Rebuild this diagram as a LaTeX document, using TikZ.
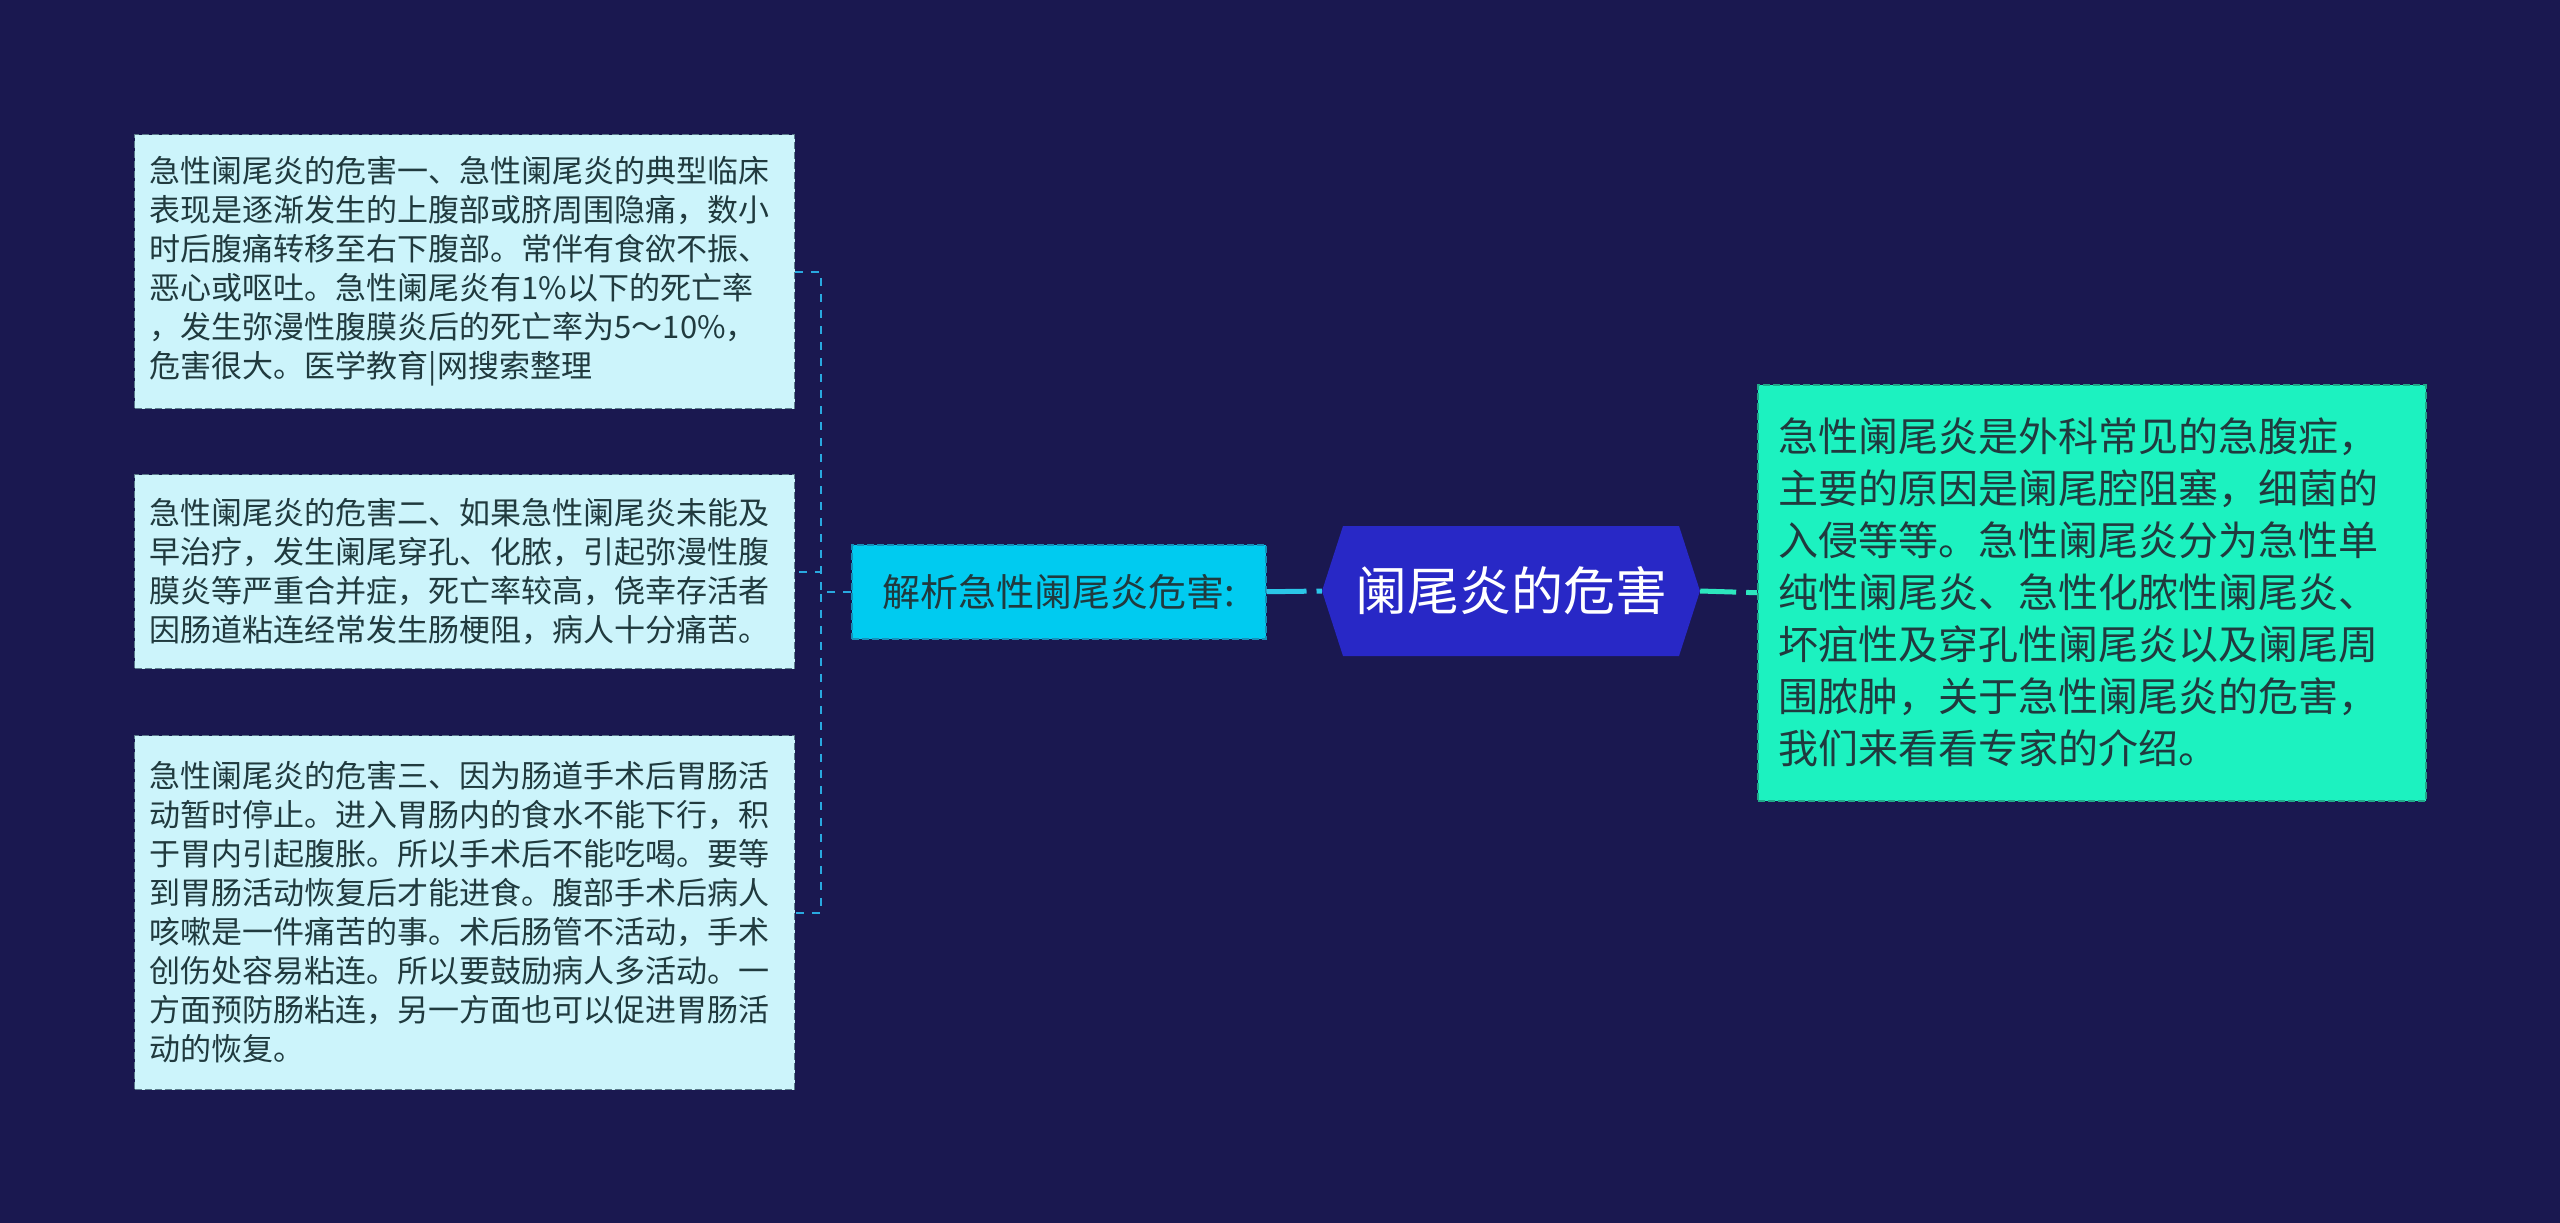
\documentclass[tikz,border=0pt]{standalone}
\usepackage{fontspec}
\setmainfont{Noto Sans CJK SC}
\usetikzlibrary{calc}
\definecolor{bgc}{HTML}{1A1850}
\definecolor{leaffill}{HTML}{CCF4FB}
\definecolor{leafline}{HTML}{5C7C8C}
\definecolor{anafill}{HTML}{00CBF0}
\definecolor{analine}{HTML}{1590B8}
\definecolor{rootfill}{HTML}{2828C6}
\definecolor{rfill}{HTML}{1CF2C0}
\definecolor{rline}{HTML}{20A888}
\definecolor{txt}{HTML}{203A3E}
\definecolor{cconn}{HTML}{29A9E0}
\definecolor{mconnc}{HTML}{2BC6E8}
\definecolor{gconnc}{HTML}{2DE6BE}
\begin{document}
\begin{tikzpicture}[x=1pt,y=-1pt,
  leaf/.style={draw=leafline, fill=leaffill, line width=1.3pt, dash pattern=on 7pt off 3pt,
    text width=630pt, inner xsep=15pt, inner ysep=0pt, align=left, text=txt,
    font=\fontsize{31}{39}\selectfont, anchor=north west},
  ana/.style={draw=analine, fill=anafill, line width=1.5pt, dash pattern=on 7pt off 3pt,
    minimum width=414pt, minimum height=94pt, inner sep=0pt, text=txt,
    font=\fontsize{38}{44}\selectfont, anchor=north west},
  rootn/.style={minimum width=378pt, minimum height=130pt, inner sep=0pt, text=white,
    font=\fontsize{52}{60}\selectfont},
  rbox/.style={draw=rline, fill=rfill, line width=1.5pt, dash pattern=on 7pt off 3pt,
    text width=626pt, inner xsep=21pt, inner ysep=0pt, align=left, text=txt,
    font=\fontsize{40}{52}\selectfont, anchor=north west},
  bconn/.style={draw=cconn, line width=2pt, dash pattern=on 8pt off 8pt},
  mconn/.style={draw=mconnc, line width=5pt, dash pattern=on 40pt off 10pt},
  gconn/.style={draw=gconnc, line width=5pt, dash pattern=on 36pt off 10pt}]
\fill[bgc] (0,0) rectangle (2560,1223);
\useasboundingbox (0,0) rectangle (2560,1223);

% central hexagon
\fill[rootfill] (1322,591) -- (1343,526) -- (1679,526) -- (1700,591) -- (1679,656) -- (1343,656) -- cycle;
\node[rootn] (root) at (1511,591) {阑尾炎的危害};

\node[ana] (ana) at (851,544) {解析急性阑尾炎危害:};

\node[leaf, minimum height=274pt] (b1) at (134,134) {急性阑尾炎的危害一、急性阑尾炎的典型临床\\
表现是逐渐发生的上腹部或脐周围隐痛，数小\\
时后腹痛转移至右下腹部。常伴有食欲不振、\\
恶心或呕吐。急性阑尾炎有1\%以下的死亡率\\
，发生弥漫性腹膜炎后的死亡率为5～10\%，\\
危害很大。医学教育|网搜索整理};

\node[leaf, minimum height=194pt] (b2) at (134,474) {急性阑尾炎的危害二、如果急性阑尾炎未能及\\
早治疗，发生阑尾穿孔、化脓，引起弥漫性腹\\
膜炎等严重合并症，死亡率较高，侥幸存活者\\
因肠道粘连经常发生肠梗阻，病人十分痛苦。};

\node[leaf, minimum height=354pt] (b3) at (134,735) {急性阑尾炎的危害三、因为肠道手术后胃肠活\\
动暂时停止。进入胃肠内的食水不能下行，积\\
于胃内引起腹胀。所以手术后不能吃喝。要等\\
到胃肠活动恢复后才能进食。腹部手术后病人\\
咳嗽是一件痛苦的事。术后肠管不活动，手术\\
创伤处容易粘连。所以要鼓励病人多活动。一\\
方面预防肠粘连，另一方面也可以促进胃肠活\\
动的恢复。};

\node[rbox, minimum height=416pt] (rb) at (1757,384) {急性阑尾炎是外科常见的急腹症，\\
主要的原因是阑尾腔阻塞，细菌的\\
入侵等等。急性阑尾炎分为急性单\\
纯性阑尾炎、急性化脓性阑尾炎、\\
坏疽性及穿孔性阑尾炎以及阑尾周\\
围脓肿，关于急性阑尾炎的危害，\\
我们来看看专家的介绍。};

% connectors
\coordinate (fork) at ($(ana.west)+(-30,0)$);
\draw[bconn] (ana.west) -- (fork) |- (b1.east);
\draw[bconn] (ana.west) -- (fork) |- (b2.east);
\draw[bconn] (ana.west) -- (fork) |- (b3.east);
\draw[mconn] (ana.east) -- (root.west);
\draw[gconn] (root.east) -- (rb.west);
\end{tikzpicture}
\end{document}
